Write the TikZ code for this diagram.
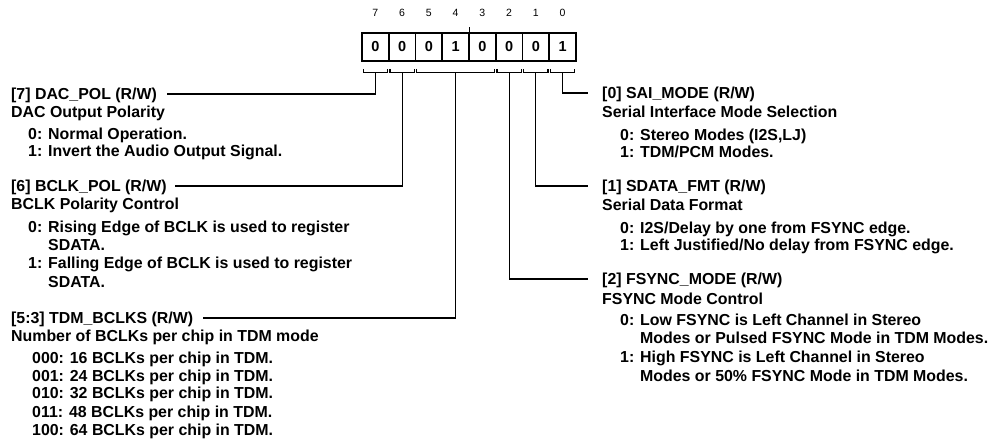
\documentclass[tikz,border=0pt]{standalone}
\usepackage{fontspec}
\setmainfont{Liberation Sans}
\usetikzlibrary{calc}
\begin{document}
\begin{tikzpicture}[x=1pt,y=-1pt,
  txt/.style={anchor=west,inner xsep=0pt,inner ysep=0pt,text height=11.4pt,text depth=0pt,
    font=\fontsize{15.9}{17}\selectfont\bfseries},
  cell/.style={draw,line width=1.6pt,minimum width=26.75pt,minimum height=28pt,inner sep=0pt,
    font=\fontsize{14.5}{14.5}\selectfont\bfseries},
  bitnum/.style={inner sep=0pt,font=\fontsize{10.5}{10.5}\selectfont},
  wire/.style={line width=1.2pt}]
\useasboundingbox (0,0) rectangle (993,443);
% register cells
\node[cell] (c7) at (375.375,47) {0};
\node[cell] (c6) at (402.125,47) {0};
\node[cell] (c5) at (428.875,47) {0};
\node[cell] (c4) at (455.625,47) {1};
\node[cell] (c3) at (482.375,47) {0};
\node[cell] (c2) at (509.125,47) {0};
\node[cell] (c1) at (535.875,47) {0};
\node[cell] (c0) at (562.625,47) {1};
% bit numbers
\foreach \i in {7,...,0} {\node[bitnum] (n\i) at ($(c\i.center)+(0,-34)$) {\i};}
% small tick
\draw[wire] (c4.north east) -- ++(0,-5);
% brackets
\foreach \i in {7,6,2,1,0} {
  \draw[wire] ($(c\i.south west)+(2,7)$) -- ++(0,4) -- ($(c\i.south east)+(-2,11)$) -- ++(0,-4);
  \coordinate (b\i) at ($(c\i.south)+(0,11)$);
}
\draw[wire] ($(c5.south west)+(2,7)$) -- ++(0,4) -- ($(c3.south east)+(-2,11)$) -- ++(0,-4);
\coordinate (b53) at ($(c4.south)+(0,11)$);
% left texts
\node[txt] (t7) at (11,94) {[7] DAC\_POL (R/W)};
\node[txt] (d7) at (11,112) {DAC Output Polarity};
\node[txt] (v70) at (28,134) {0: Normal Operation.};
\node[txt] (v71) at (28,151) {1: Invert the Audio Output Signal.};
\node[txt] (t6) at (11,186) {[6] BCLK\_POL (R/W)};
\node[txt] (d6) at (11,204) {BCLK Polarity Control};
\node[txt] (v60) at (28,227) {0: Rising Edge of BCLK is used to register};
\node[txt] (v60b) at (48,245) {SDATA.};
\node[txt] (v61) at (28,263) {1: Falling Edge of BCLK is used to register};
\node[txt] (v61b) at (48,282) {SDATA.};
\node[txt] (t53) at (11,318) {[5:3] TDM\_BCLKS (R/W)};
\node[txt] (d53) at (11,336) {Number of BCLKs per chip in TDM mode};
\node[txt] (v530) at (32,358) {000: 16 BCLKs per chip in TDM.};
\node[txt] (v531) at (32,376) {001: 24 BCLKs per chip in TDM.};
\node[txt] (v532) at (32,393) {010: 32 BCLKs per chip in TDM.};
\node[txt] (v533) at (32,412) {011: 48 BCLKs per chip in TDM.};
\node[txt] (v534) at (32,430) {100: 64 BCLKs per chip in TDM.};
% right texts
\node[txt] (t0) at (602,93) {[0] SAI\_MODE (R/W)};
\node[txt] (d0) at (602,112) {Serial Interface Mode Selection};
\node[txt] (v00) at (620,135) {0: Stereo Modes (I2S,LJ)};
\node[txt] (v01) at (620,152) {1: TDM/PCM Modes.};
\node[txt] (t1) at (602,186) {[1] SDATA\_FMT (R/W)};
\node[txt] (d1) at (602,205) {Serial Data Format};
\node[txt] (v10) at (620,228) {0: I2S/Delay by one from FSYNC edge.};
\node[txt] (v11) at (620,245) {1: Left Justified/No delay from FSYNC edge.};
\node[txt] (t2) at (602,279) {[2] FSYNC\_MODE (R/W)};
\node[txt] (d2) at (602,299) {FSYNC Mode Control};
\node[txt] (v20) at (620,320) {0: Low FSYNC is Left Channel in Stereo};
\node[txt] (v20b) at (640,338) {Modes or Pulsed FSYNC Mode in TDM Modes.};
\node[txt] (v21) at (620,357) {1: High FSYNC is Left Channel in Stereo};
\node[txt] (v21b) at (640,376) {Modes or 50\% FSYNC Mode in TDM Modes.};
% connectors
\draw[wire] (b7) |- ([xshift=10pt]t7.east);
\draw[wire] (b6) |- ([xshift=8pt]t6.east);
\draw[wire] (b53) |- ([xshift=10pt]t53.east);
\draw[wire] (b0) |- ([xshift=-14pt]t0.west);
\draw[wire] (b1) |- ([xshift=-14pt]t1.west);
\draw[wire] (b2) |- ([xshift=-14pt]t2.west);
\end{tikzpicture}
\end{document}
